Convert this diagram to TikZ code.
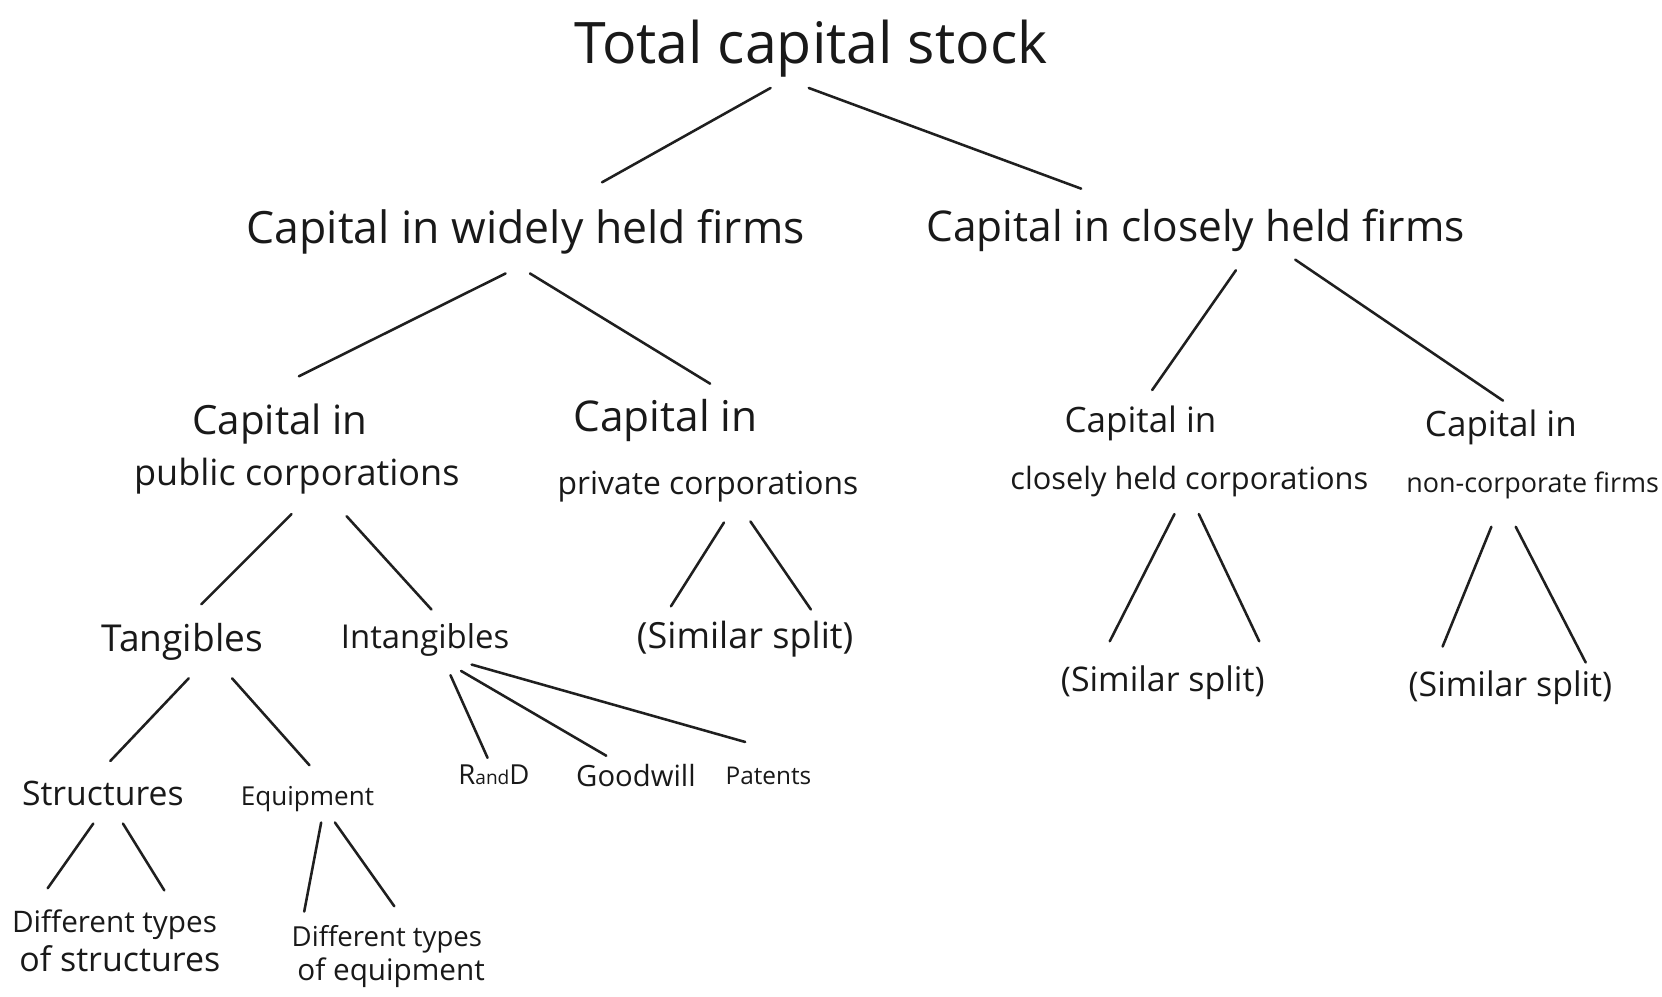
\documentclass[tikz,border=0pt]{standalone}
\usepackage{fontspec}
\setmainfont{Open Sans}
\newcommand\fsz[1]{\fontsize{#1}{#1}\selectfont}
\newcommand\conn[4]{\draw[link] ([shift={#2}]#1.base) -- ([shift={#4}]#3.base);}
\begin{document}
\begin{tikzpicture}[x=0.5pt,y=-0.5pt,
  txt/.style={inner sep=0pt,anchor=base,text=black!90},
  link/.style={line width=1.2pt,line cap=round,draw=black!88}]
\fill[white] (0,0) rectangle (1568,940);
\useasboundingbox (0,0) rectangle (1568,940);
% level 0
\node[txt,font=\fsz{27}] (tot) at (765,60) {Total capital stock};
% level 1
\node[txt,font=\fsz{21}] (wid) at (496,230) {Capital in widely held firms};
\node[txt,font=\fsz{20}] (clo) at (1128,228) {Capital in closely held firms};
% level 2
\node[txt,font=\fsz{19}] (pub1) at (264,410) {Capital in};
\node[txt,font=\fsz{17}] (pub2) at (280,458) {public corporations};
\node[txt,font=\fsz{20}] (pri1) at (628,407) {Capital in};
\node[txt,font=\fsz{15}] (pri2) at (668,467) {private corporations};
\node[txt,font=\fsz{16.5}] (cc1) at (1076,408) {Capital in};
\node[txt,font=\fsz{14.5}] (cc2) at (1122,462) {closely held corporations};
\node[txt,font=\fsz{16.5}] (nc1) at (1416,412) {Capital in};
\node[txt,font=\fsz{12.7}] (nc2) at (1446,465) {non-corporate firms};
% level 3
\node[txt,font=\fsz{17.5}] (tan) at (172,615) {Tangibles};
\node[txt,font=\fsz{15.5}] (int) at (401,612) {Intangibles};
\node[txt,font=\fsz{17}] (sa) at (703,612) {(Similar split)};
\node[txt,font=\fsz{16}] (sb) at (1097,652) {(Similar split)};
\node[txt,font=\fsz{16}] (sc) at (1425,657) {(Similar split)};
% level 4
\node[txt,font=\fsz{15.9}] (str) at (97,760) {Structures};
\node[txt,font=\fsz{12.3}] (equ) at (290,760) {Equipment};
\node[txt,font=\fsz{13}] (rad) at (466,740) {R{\fsz{9}and}D};
\node[txt,font=\fsz{13.8}] (goo) at (600,742) {Goodwill};
\node[txt,font=\fsz{11.5}] (pat) at (725,740) {Patents};
% level 5
\node[txt,font=\fsz{14}] (dta) at (108,880) {Different types};
\node[txt,font=\fsz{16}] (dtab) at (113,917) {of structures};
\node[txt,font=\fsz{13}] (dtb) at (365,893) {Different types};
\node[txt,font=\fsz{14}] (dtbb) at (369,925) {of equipment};
% connectors
\conn{tot}{(-38,23)}{wid}{(72,-58)}
\conn{tot}{(-2,23)}{clo}{(-108,-50)}
\conn{wid}{(-19,28)}{pub1}{(18,-55)}
\conn{wid}{(4,28)}{pri1}{(42,-45)}
\conn{clo}{(38,27)}{cc1}{(11,-40)}
\conn{clo}{(94,17)}{nc1}{(2,-34)}
\conn{pub2}{(-5,27)}{tan}{(18,-45)}
\conn{pub2}{(47,29)}{int}{(6,-37)}
\conn{pri2}{(15,26)}{sa}{(-70,-40)}
\conn{pri2}{(40,25)}{sa}{(62,-37)}
\conn{cc2}{(-14,23)}{sb}{(-50,-47)}
\conn{cc2}{(9,23)}{sb}{(91,-47)}
\conn{nc2}{(-39,32)}{sc}{(-64,-47)}
\conn{nc2}{(-16,32)}{sc}{(71,-32)}
\conn{tan}{(6,25)}{str}{(7,-42)}
\conn{tan}{(47,25)}{equ}{(2,-38)}
\conn{int}{(24,25)}{rad}{(-6,-25)}
\conn{int}{(34,21)}{goo}{(-28,-29)}
\conn{int}{(44,15)}{pat}{(-22,-40)}
\conn{str}{(-9,17)}{dta}{(-63,-42)}
\conn{str}{(19,17)}{dta}{(47,-40)}
\conn{equ}{(13,16)}{dtb}{(-78,-33)}
\conn{equ}{(26,16)}{dtb}{(7,-38)}
\end{tikzpicture}
\end{document}
